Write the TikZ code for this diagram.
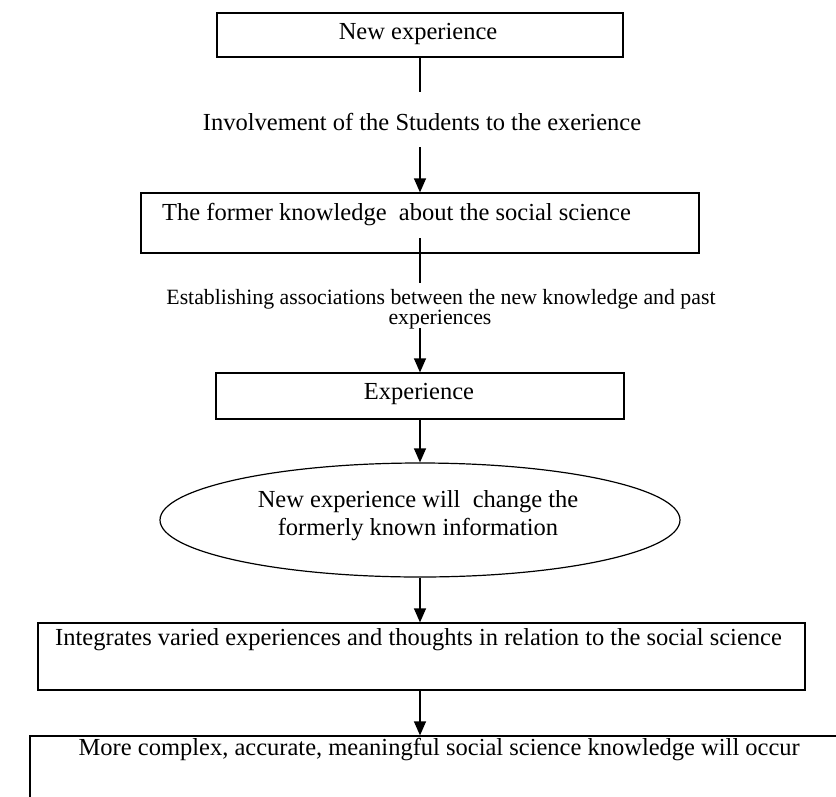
\documentclass[tikz,border=0pt]{standalone}
\usepackage{fontspec}
\setmainfont{Liberation Serif}
\usetikzlibrary{arrows.meta,shapes.geometric}
\begin{document}
\begin{tikzpicture}[x=1pt,y=-1pt,
  box/.style={draw=black,line width=1.2pt,inner sep=0pt},
  txt/.style={inner sep=0pt,text height=0.68em,text depth=0.22em,font=\fontsize{24.5}{28}\selectfont},
  smalltxt/.style={inner sep=0pt,text height=0.68em,text depth=0.22em,font=\fontsize{21.8}{24}\selectfont},
  conn/.style={draw=black,line width=1.2pt},
  arr/.style={conn,-{Triangle[width=12pt,length=14pt]}}]
\clip (0,0) rectangle (836,796);
\fill[white] (0,0) rectangle (836,796);
% boxes
\node[box,minimum width=406pt,minimum height=44pt] (b1) at (420,35) {};
\node[box,minimum width=558pt,minimum height=60pt] (b2) at (420,223) {};
\node[box,minimum width=408pt,minimum height=46pt] (b3) at (420,396) {};
\node[box,ellipse,minimum width=520pt,minimum height=114pt] (el) at (420,520) {};
\node[box,minimum width=767pt,minimum height=67pt] (b5) at (421.5,656.5) {};
\node[box,minimum width=820pt,minimum height=74pt] (b6) at (440,773) {};
% texts
\node[txt] (t1) at (418,37) {New experience};
\node[txt] (inv) at (422,128) {Involvement of the Students to the exerience};
\node[txt,anchor=west] (t2) at (162,218) {The former knowledge\ \ about the social science};
\node[smalltxt] (est) at (441,302) {Establishing associations between the new knowledge and past};
\node[smalltxt] (exps) at (440,322) {experiences};
\node[txt] (t3) at (419,397) {Experience};
\node[txt] (e1) at (418,505) {New experience will\ \ change the};
\node[txt] (e2) at (418,533) {formerly known information};
\node[txt,anchor=east] (t5) at (782,643) {Integrates varied experiences and thoughts in relation to the social science};
\node[txt,anchor=east] (t6) at (800,753) {More complex, accurate, meaningful social science knowledge will occur};
% connector ends
\coordinate (c1) at (420,92);
\coordinate (c2) at (420,147);
\coordinate (c3) at (420,238);
\coordinate (c4) at (420,283);
\coordinate (c5) at (420,328);
% connectors
\draw[conn] (b1.south) -- (c1);
\draw[arr] (c2) -- (b2.north);
\draw[conn] (c3) -- (c4);
\draw[arr] (c5) -- (b3.north);
\draw[arr] (b3.south) -- (el.north);
\draw[arr] (el.south) -- (el.south |- b5.north);
\draw[arr] (el.south |- b5.south) -- (el.south |- b6.north);
\end{tikzpicture}
\end{document}
